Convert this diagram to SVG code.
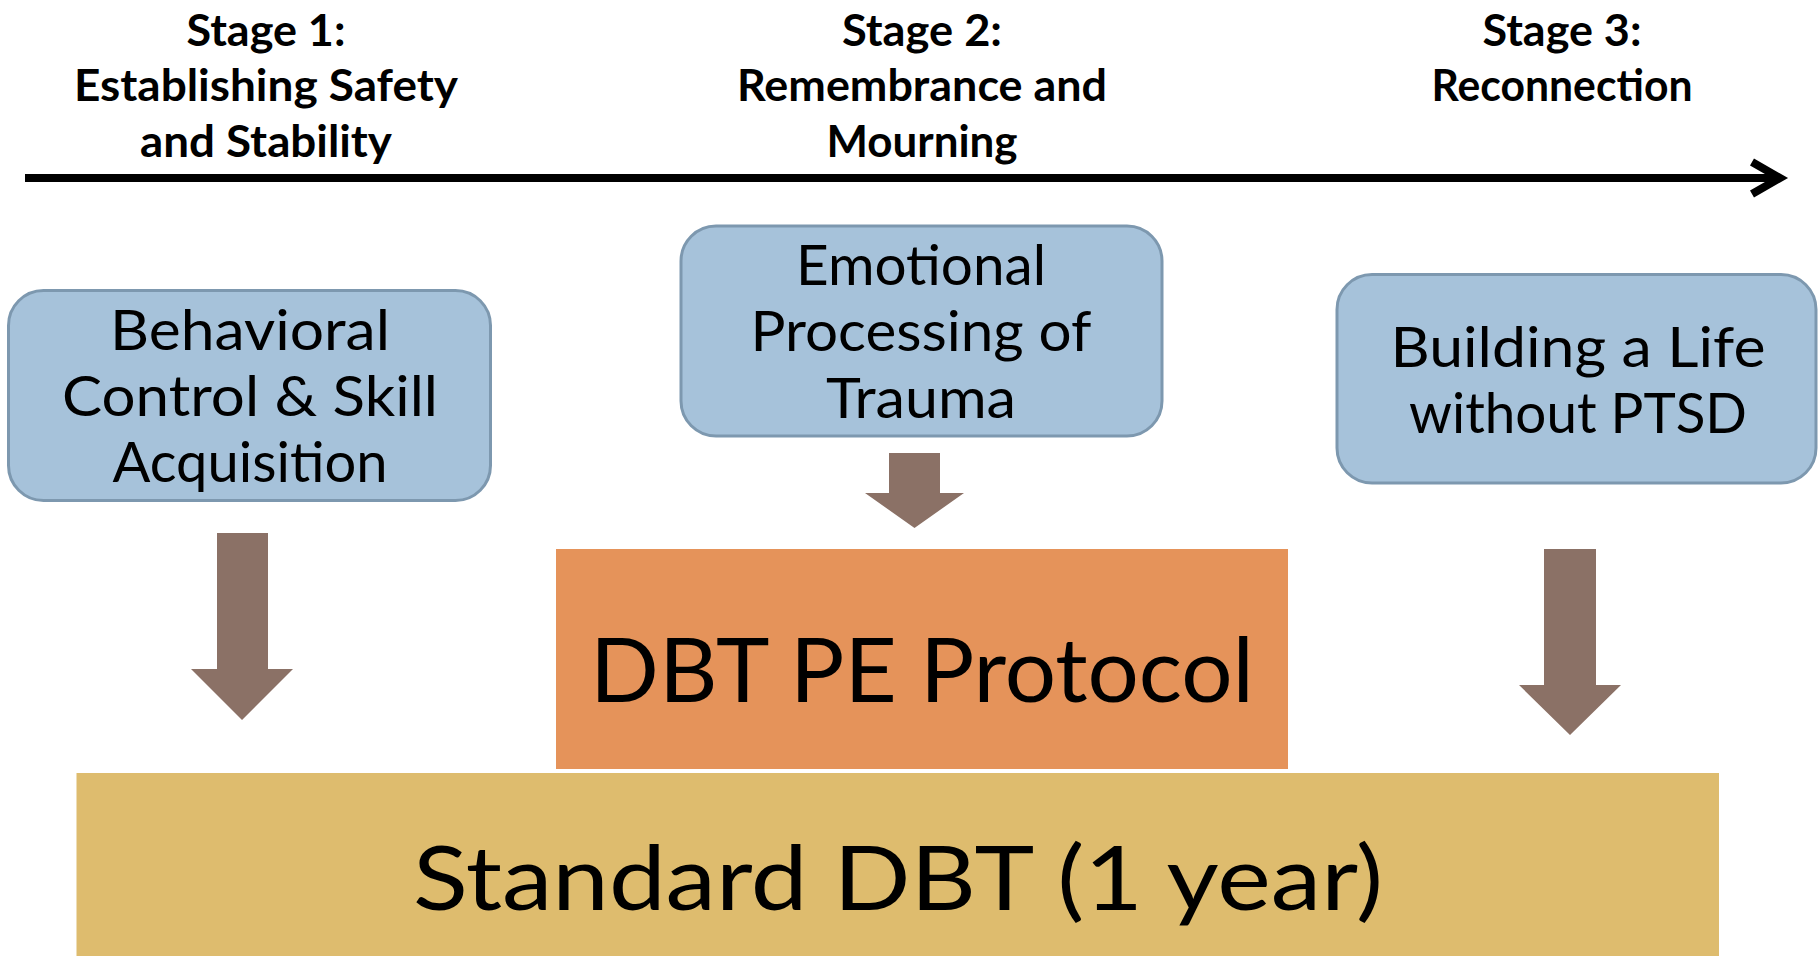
<svg xmlns="http://www.w3.org/2000/svg" width="1818" height="956" viewBox="0 0 1818 956">
  <defs>
    <style>
      .stage { font-family: Lato, "Liberation Sans", "DejaVu Sans", sans-serif; font-weight: 700; font-size: 44px; fill: #000; text-anchor: middle; }
      .phase { fill: #A6C2DA; stroke: #7D98AF; stroke-width: 3; }
      .label { font-family: Lato, "Liberation Sans", "DejaVu Sans", sans-serif; font-size: 56px; fill: #000; text-anchor: middle; }
      .big { font-family: Lato, "Liberation Sans", "DejaVu Sans", sans-serif; font-size: 90px; fill: #000; text-anchor: middle; }
      .block-arrow { fill: #8B7166; }
      .timeline { stroke: #000; stroke-width: 8; fill: none; }
    </style>
  </defs>
  <rect width="1818" height="956" fill="#FFFFFF"/>

  <!-- stage headings -->
  <g id="stage1">
    <text class="stage" x="266" y="46" textLength="159" lengthAdjust="spacingAndGlyphs">Stage 1:</text>
    <text class="stage" x="266" y="101" textLength="384" lengthAdjust="spacingAndGlyphs">Establishing Safety</text>
    <text class="stage" x="266" y="157" textLength="252" lengthAdjust="spacingAndGlyphs">and Stability</text>
  </g>
  <g id="stage2">
    <text class="stage" x="922" y="46" textLength="160" lengthAdjust="spacingAndGlyphs">Stage 2:</text>
    <text class="stage" x="922" y="101" textLength="370" lengthAdjust="spacingAndGlyphs">Remembrance and</text>
    <text class="stage" x="922" y="157" textLength="191" lengthAdjust="spacingAndGlyphs">Mourning</text>
  </g>
  <g id="stage3">
    <text class="stage" x="1562" y="46" textLength="159" lengthAdjust="spacingAndGlyphs">Stage 3:</text>
    <text class="stage" x="1562" y="101" textLength="261" lengthAdjust="spacingAndGlyphs">Reconnection</text>
  </g>

  <!-- phase boxes -->
  <g id="behavioral-control">
    <rect class="phase" x="8.5" y="290.5" width="482" height="210" rx="35"/>
    <text class="label" x="250" y="350" textLength="280" lengthAdjust="spacingAndGlyphs">Behavioral</text>
    <text class="label" x="250" y="416" textLength="376" lengthAdjust="spacingAndGlyphs">Control &amp; Skill</text>
    <text class="label" x="250" y="482" textLength="275" lengthAdjust="spacingAndGlyphs">Acquisition</text>
  </g>
  <g id="emotional-processing">
    <rect class="phase" x="681" y="226" width="481" height="210" rx="35"/>
    <text class="label" x="921" y="285" textLength="250" lengthAdjust="spacingAndGlyphs">Emotional</text>
    <text class="label" x="921" y="351" textLength="341" lengthAdjust="spacingAndGlyphs">Processing of</text>
    <text class="label" x="921" y="418" textLength="190" lengthAdjust="spacingAndGlyphs">Trauma</text>
  </g>
  <g id="building-a-life">
    <rect class="phase" x="1337" y="274.5" width="479" height="208.5" rx="35"/>
    <text class="label" x="1578" y="367" textLength="375" lengthAdjust="spacingAndGlyphs">Building a Life</text>
    <text class="label" x="1578" y="433" textLength="338" lengthAdjust="spacingAndGlyphs">without PTSD</text>
  </g>

  <!-- treatment layers -->
  <g id="dbt-pe-protocol">
    <rect x="556" y="549" width="732" height="220" fill="#E5935A"/>
    <text class="big" x="922" y="702" font-size="90" textLength="664" lengthAdjust="spacingAndGlyphs">DBT PE Protocol</text>
  </g>
  <g id="standard-dbt">
    <rect x="76.5" y="773" width="1642.5" height="183" fill="#DEBC6E"/>
    <text class="big" x="898" y="910" textLength="970" lengthAdjust="spacingAndGlyphs">Standard DBT (1 year)</text>
  </g>

  <!-- connectors -->
  <g id="connectors">
    <line class="timeline" x1="25" y1="178" x2="1780" y2="178" stroke-width="8.5"/>
    <polyline class="timeline" points="1752,162 1780,178 1752,194" stroke-linejoin="miter"/>
    <path class="block-arrow" d="M217,533 H268 V669 H293 L242,720 L191,669 H217 Z"/>
    <path class="block-arrow" d="M889,453 H940 V493 H964 L914.5,528 L865,493 H889 Z"/>
    <path class="block-arrow" d="M1544,549 H1596 V685 H1621 L1570,735 L1519,685 H1544 Z"/>
  </g>
</svg>
